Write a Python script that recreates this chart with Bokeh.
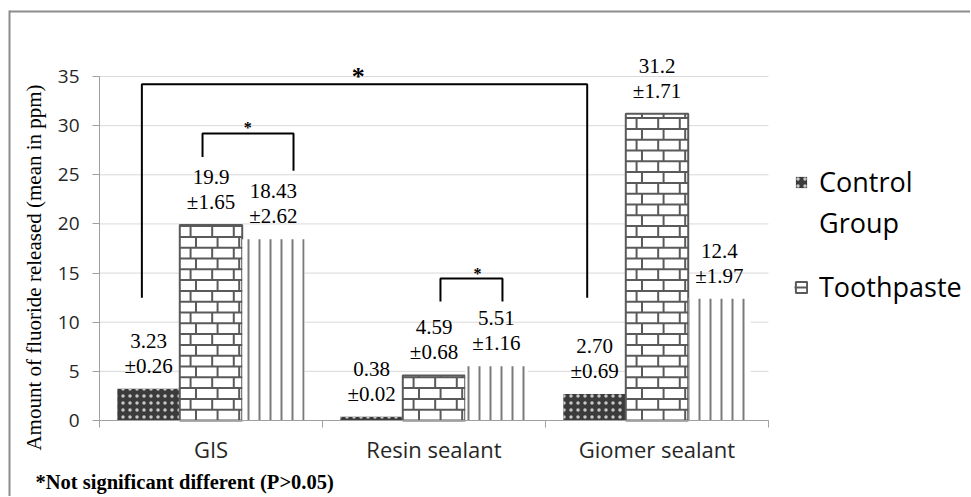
import math
from bokeh.plotting import figure
from bokeh.models import (Range1d, FixedTicker, Legend, LegendItem, Label, LabelSet,
                          ColumnDataSource)
from bokeh.core.properties import value
from bokeh.embed import file_html
from bokeh.resources import INLINE

# ---------------- data ----------------
categories = ["GIS", "Resin sealant", "Giomer sealant"]
series_names = ["Control Group", "Toothpaste", "Group 3"]

control_mean = [3.23, 0.38, 2.70]
toothpaste_mean = [19.9, 4.59, 31.2]
third_mean = [18.43, 5.51, 12.4]

control_mean_txt = ["3.23", "0.38", "2.70"]
toothpaste_mean_txt = ["19.9", "4.59", "31.2"]
third_mean_txt = ["18.43", "5.51", "12.4"]

control_sd_txt = ["±0.26", "±0.02", "±0.69"]
toothpaste_sd_txt = ["±1.65", "±0.68", "±1.71"]
third_sd_txt = ["±2.62", "±1.16", "±1.97"]

y_ticks = [0, 5, 10, 15, 20, 25, 30, 35]
y_title = "Amount of fluoride released (mean in ppm)"
footnote = "*Not significant different (P>0.05)"

# significance brackets (data units)
bracket_left = [0.19, 0.462, 1.529]
bracket_right = [2.187, 0.87, 1.807]
bracket_top = [34.2, 29.2, 14.45]
bracket_left_bottom = [12.5, 26.8, 12.1]
bracket_right_bottom = [12.5, 25.4, 12.1]
star_x = [1.16, 0.665, 1.695]
star_size = ["26px", "16px", "16px"]
star_offset = [8, 6, 5]

# ---------------- layout (page pixels) ----------------
W, H = 970, 496
AX_X0, AX_X1 = 99, 768               # plot area left/right (page px)
AX_Y0, AX_Y35 = 420, 76              # y=0 and y=35 (page px)
PX_X = (AX_X1 - AX_X0) / 3.0
PX_Y = (AX_Y0 - AX_Y35) / 35.0


def dx(px):
    return (px - AX_X0) / PX_X


def dy(py):
    return (AX_Y0 - py) / PX_Y


p = figure(width=W, height=H,
           x_range=Range1d(dx(0), dx(W)), y_range=Range1d(dy(H), dy(0)),
           output_backend="svg", toolbar_location=None, min_border=0)
p.outline_line_color = None
p.background_fill_color = "white"
p.xgrid.grid_line_color = None
p.ygrid.grid_line_color = None

# chart-area border (left and top edges visible in the crop)
p.segment(x0=[dx(9), dx(9)], x1=[dx(9), dx(W)], y0=[dy(H), dy(11)], y1=[dy(10), dy(11)],
          line_color="#8c8c8c", line_width=2)

# horizontal gridlines over the plot area only
p.segment(x0=[0] * len(y_ticks), x1=[len(categories)] * len(y_ticks), y0=y_ticks, y1=y_ticks,
          line_color="#d9d9d9", line_width=1)

centers = [i + 0.5 for i in range(len(categories))]
offsets = [-0.28, 0.0, 0.28]
bar_w = 0.28

means = [control_mean, toothpaste_mean, third_mean]
renderers = []
for k, vals in enumerate(means):
    src = ColumnDataSource(dict(x=[c + offsets[k] for c in centers], top=vals))
    if k == 0:
        r = p.vbar(x="x", top="top", width=bar_w, source=src, fill_color="#3b3b3b",
                   line_color=None, hatch_pattern="dot", hatch_color="#c8c8c8",
                   hatch_scale=7, hatch_weight=1)
    elif k == 1:
        r = p.vbar(x="x", top="top", width=bar_w, source=src, fill_color="white",
                   line_color="#5a5a5a", line_width=2)
    else:
        r = p.vbar(x="x", top="top", width=bar_w, source=src, fill_color="white",
                   line_color=None, hatch_pattern="vertical_line", hatch_color="#7a7a7a",
                   hatch_scale=11, hatch_weight=2)
    renderers.append(r)

# brick pattern for the second series, derived from its bars
row_h = 10.8 / PX_Y
brick_len = 21.6 / PX_X
hx0, hx1, hy = [], [], []
vx, vy0, vy1 = [], [], []
for c, top in zip(centers, toothpaste_mean):
    left = c + offsets[1] - bar_w / 2
    right = left + bar_w
    j = 0
    while j * row_h < top:
        y0 = j * row_h
        y1 = min(y0 + row_h, top)
        if j > 0:
            hx0.append(left); hx1.append(right); hy.append(y0)
        x = left + (brick_len / 2 if j % 2 else brick_len * 0.75)
        while x < right - 0.004:
            vx.append(x); vy0.append(y0); vy1.append(y1)
            x += brick_len
        j += 1
r_hl = p.segment(x0=hx0, x1=hx1, y0=hy, y1=hy, line_color="#5a5a5a", line_width=2)
p.segment(x0=vx, x1=vx, y0=vy0, y1=vy1, line_color="#5a5a5a", line_width=2)

# data labels
mean_txts = [control_mean_txt, toothpaste_mean_txt, third_mean_txt]
sd_txts = [control_sd_txt, toothpaste_sd_txt, third_sd_txt]
for k in range(3):
    src = ColumnDataSource(dict(x=[c + offsets[k] for c in centers], y=means[k],
                                m=mean_txts[k], s=sd_txts[k]))
    p.add_layout(LabelSet(x="x", y="y", text="m", source=src, y_offset=41,
                          text_align="center", text_baseline="alphabetic",
                          text_font=value("Liberation Serif"), text_font_size="21px",
                          text_color="black"))
    p.add_layout(LabelSet(x="x", y="y", text="s", source=src, y_offset=16,
                          text_align="center", text_baseline="alphabetic",
                          text_font=value("Liberation Serif"), text_font_size="21px",
                          text_color="black"))

# brackets
bxs = [[l, l, r, r] for l, r in zip(bracket_left, bracket_right)]
bys = [[lb, t, t, rb] for lb, t, rb in zip(bracket_left_bottom, bracket_top, bracket_right_bottom)]
p.multi_line(xs=bxs, ys=bys, line_color="black", line_width=2)
for sx, t, fs, off in zip(star_x, bracket_top, star_size, star_offset):
    p.add_layout(Label(x=sx, y=t, y_offset=off, text="*", text_align="center",
                       text_baseline="alphabetic", text_font="Liberation Serif",
                       text_font_style="bold", text_font_size=fs, text_color="black"))

# axes (fixed at the data origin)
p.yaxis.fixed_location = 0
p.yaxis.bounds = (0, 35)
p.yaxis.ticker = FixedTicker(ticks=y_ticks)
p.yaxis.axis_line_color = "#a0a0a0"
p.yaxis.major_tick_line_color = "#a0a0a0"
p.yaxis.major_tick_out = 7
p.yaxis.major_tick_in = 0
p.yaxis.minor_tick_line_color = None
p.yaxis.major_label_standoff = 13
p.yaxis.major_label_text_font = "Open Sans"
p.yaxis.major_label_text_font_size = "19px"
p.yaxis.major_label_text_color = "#262626"

p.xaxis.fixed_location = 0
p.xaxis.bounds = (0, len(categories))
p.xaxis.ticker = FixedTicker(ticks=centers, minor_ticks=list(range(len(categories) + 1)))
p.xaxis.major_label_overrides = {c: name for c, name in zip(centers, categories)}
p.xaxis.axis_line_color = "#a0a0a0"
p.xaxis.major_tick_line_color = None
p.xaxis.major_tick_out = 0
p.xaxis.major_tick_in = 0
p.xaxis.minor_tick_line_color = "#a0a0a0"
p.xaxis.minor_tick_out = 7
p.xaxis.minor_tick_in = 0
p.xaxis.major_label_standoff = 6
p.xaxis.major_label_text_font = "Open Sans"
p.xaxis.major_label_text_font_size = "22px"
p.xaxis.major_label_text_color = "#262626"

# y-axis title and footnote
p.add_layout(Label(x=dx(33), y=dy(267), text=y_title,
                   angle=math.pi / 2, text_align="center", text_baseline="middle",
                   text_font="Liberation Serif", text_font_size="21px", text_color="black"))
p.add_layout(Label(x=dx(35), y=dy(481), text=footnote,
                   text_align="left", text_baseline="alphabetic",
                   text_font="Liberation Serif", text_font_style="bold",
                   text_font_size="20.5px", text_color="black"))

# legend (two blocks: "Control / Group" and "Toothpaste")
dummy = p.scatter(x=[], y=[], size=1, fill_alpha=0, line_alpha=0)
common = dict(orientation="vertical", label_text_font="Open Sans",
              label_text_font_size="27px", label_text_color="black",
              glyph_width=14, glyph_height=14, label_standoff=11,
              padding=0, margin=0, border_line_color=None, background_fill_alpha=0)
legend_a = Legend(items=[LegendItem(label="Control", renderers=[renderers[0]]),
                         LegendItem(label="Group", renderers=[dummy])],
                  location=(794, H - 241), spacing=4, **common)
legend_b = Legend(items=[LegendItem(label=series_names[1], renderers=[renderers[1], r_hl])],
                  location=(794, H - 305), spacing=0, **common)
p.add_layout(legend_a)
p.add_layout(legend_b)

open("out.html", "w").write(file_html(p, INLINE))
